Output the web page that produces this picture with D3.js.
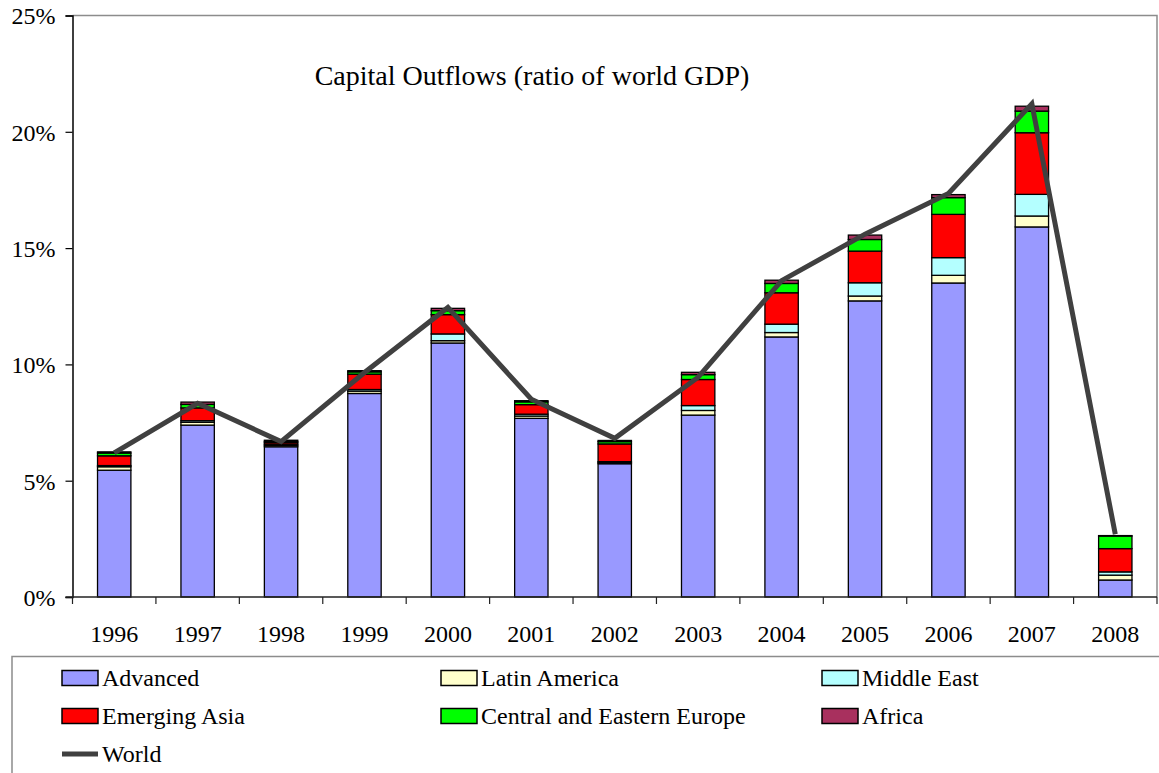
<!DOCTYPE html>
<html>
<head>
<meta charset="utf-8">
<script src="https://cdn.jsdelivr.net/npm/d3@7"></script>
<style>
  body { margin: 0; background: #fff; }
  svg text { font-family: "Liberation Serif", "Times New Roman", serif; fill: #000; }
</style>
</head>
<body>
<svg width="1159" height="773"></svg>
<script>
var years = ["1996","1997","1998","1999","2000","2001","2002","2003","2004","2005","2006","2007","2008"];

// ratio of world GDP, in %
var advanced     = [5.45, 7.39, 6.46, 8.75, 10.92, 7.68, 5.73, 7.82, 11.18, 12.73, 13.50, 15.91, 0.73];
var latinAmerica = [0.15, 0.12, 0.06, 0.10, 0.10, 0.10, 0.05, 0.20, 0.19, 0.21, 0.33, 0.47, 0.21];
var middleEast   = [0.05, 0.07, 0.05, 0.07, 0.29, 0.08, 0.04, 0.21, 0.36, 0.57, 0.76, 0.93, 0.14];
var emergingAsia = [0.42, 0.55, 0.07, 0.66, 0.83, 0.41, 0.76, 1.12, 1.35, 1.36, 1.86, 2.65, 1.00];
var ceEurope     = [0.12, 0.15, 0.05, 0.10, 0.17, 0.12, 0.10, 0.21, 0.40, 0.50, 0.72, 0.93, 0.54];
var africa       = [0.05, 0.10, 0.05, 0.05, 0.10, 0.05, 0.05, 0.10, 0.14, 0.19, 0.13, 0.21, 0.02];
var world        = [6.20, 8.33, 6.68, 9.65, 12.45, 8.50, 6.82, 9.45, 13.60, 15.60, 17.35, 21.20, 2.70];

var yTicks = [0, 5, 10, 15, 20, 25];

var series = [
  {key: "Advanced", values: advanced, color: "#9999ff"},
  {key: "Latin America", values: latinAmerica, color: "#ffffcc"},
  {key: "Middle East", values: middleEast, color: "#b4ffff"},
  {key: "Emerging Asia", values: emergingAsia, color: "#ff0000"},
  {key: "Central and Eastern Europe", values: ceEurope, color: "#00ff00"},
  {key: "Africa", values: africa, color: "#a8305e"}
];

var svg = d3.select("svg");

// plot area edges (note: "top" clashes with window.top)
var plotL = 72.5, plotR = 1157, plotT = 15.5, plotB = 597;

var x = d3.scaleBand().domain(years).range([plotL, plotR])
    .paddingInner(0.6).paddingOuter(0.3);
var y = d3.scaleLinear().domain([0, 25]).range([plotB, plotT]);

// table for the stack
var table = years.map(function(yr, i) {
  var row = {year: yr};
  series.forEach(function(s) { row[s.key] = s.values[i]; });
  return row;
});

var stack = d3.stack().keys(series.map(function(s) { return s.key; }));
var layers = stack(table);

// plot area frame (top + right)
svg.append("path")
    .attr("d", "M" + plotL + "," + plotT + "H" + plotR + "V" + plotB)
    .attr("fill", "none")
    .attr("stroke", "#8c8c8c")
    .attr("stroke-width", 1.5);

// bars
svg.append("g").selectAll("g")
  .data(layers)
  .enter().append("g")
    .attr("fill", function(d, i) { return series[i].color; })
  .selectAll("rect")
  .data(function(d) { return d; })
  .enter().append("rect")
    .attr("x", function(d) { return x(d.data.year); })
    .attr("width", x.bandwidth())
    .attr("y", function(d) { return y(d[1]); })
    .attr("height", function(d) { return y(d[0]) - y(d[1]); })
    .attr("stroke", "#000")
    .attr("stroke-width", 1.3);

// y axis
var yAxis = svg.append("g")
    .attr("transform", "translate(" + plotL + ",0)")
    .call(d3.axisLeft(y).tickValues(yTicks).tickSize(7).tickPadding(10)
      .tickFormat(function(d) { return d + "%"; }));
yAxis.select(".domain").attr("stroke", "#000").attr("stroke-width", 1.5);
yAxis.selectAll(".tick line").attr("stroke", "#000").attr("stroke-width", 1.2);
yAxis.selectAll("text")
    .attr("font-size", 24)
    .attr("dy", "0.35em")
    .style("font-family", "'Liberation Serif', serif");

// x axis line + ticks at category boundaries
var gap = (x.step() - x.bandwidth()) / 2;
var bounds = years.map(function(yr) { return x(yr) - gap; });
bounds.push(x(years[years.length - 1]) + x.bandwidth() + gap);

svg.append("line")
    .attr("x1", plotL - 7).attr("x2", plotR)
    .attr("y1", plotB).attr("y2", plotB)
    .attr("stroke", "#222").attr("stroke-width", 1.5);

svg.append("g").selectAll("line")
  .data(bounds)
  .enter().append("line")
    .attr("x1", function(d) { return d; })
    .attr("x2", function(d) { return d; })
    .attr("y1", plotB).attr("y2", plotB + 7)
    .attr("stroke", "#222").attr("stroke-width", 1.2);

svg.append("g").selectAll("text")
  .data(years)
  .enter().append("text")
    .attr("x", function(d) { return x(d) + x.bandwidth() / 2; })
    .attr("y", plotB + 45)
    .attr("text-anchor", "middle")
    .attr("font-size", 24)
    .text(function(d) { return d; });

// world line
var line = d3.line()
    .x(function(d, i) { return x(years[i]) + x.bandwidth() / 2; })
    .y(function(d) { return y(d); });

svg.append("path")
    .datum(world)
    .attr("d", line)
    .attr("fill", "none")
    .attr("stroke", "#404040")
    .attr("stroke-width", 5)
    .attr("stroke-linejoin", "miter");

// title
svg.append("text")
    .attr("x", 532)
    .attr("y", 85)
    .attr("text-anchor", "middle")
    .attr("font-size", 28)
    .text("Capital Outflows (ratio of world GDP)");

// legend
svg.append("rect")
    .attr("x", 12).attr("y", 656.5)
    .attr("width", 1170).attr("height", 140)
    .attr("fill", "#fff")
    .attr("stroke", "#8c8c8c")
    .attr("stroke-width", 1.5);

var colX = [62, 441, 822];
var rowY = [678, 716, 754];

var legendItems = series.map(function(s) { return {key: s.key, color: s.color, type: "rect"}; });
legendItems.push({key: "World", color: "#404040", type: "line"});

var li = svg.append("g").selectAll("g")
  .data(legendItems)
  .enter().append("g")
    .attr("transform", function(d, i) {
      return "translate(" + colX[i % 3] + "," + rowY[Math.floor(i / 3)] + ")";
    });

li.filter(function(d) { return d.type === "rect"; })
  .append("rect")
    .attr("x", 0).attr("y", -7.5)
    .attr("width", 36).attr("height", 15)
    .attr("fill", function(d) { return d.color; })
    .attr("stroke", "#000")
    .attr("stroke-width", 1.5);

li.filter(function(d) { return d.type === "line"; })
  .append("line")
    .attr("x1", 0).attr("x2", 36)
    .attr("y1", 0).attr("y2", 0)
    .attr("stroke", function(d) { return d.color; })
    .attr("stroke-width", 5);

li.append("text")
    .attr("x", 40)
    .attr("y", 0)
    .attr("dy", "0.35em")
    .attr("font-size", 24)
    .text(function(d) { return d.key; });
</script>
</body>
</html>
